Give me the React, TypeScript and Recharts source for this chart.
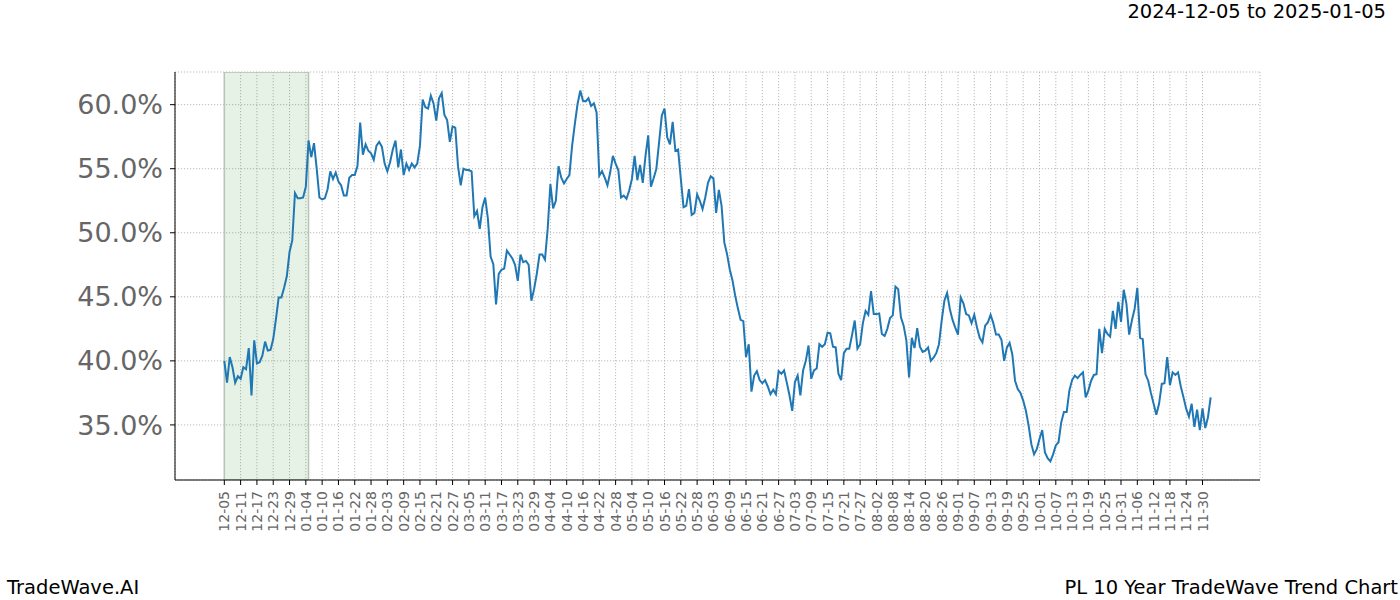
import { LineChart, Line, XAxis, YAxis, CartesianGrid, ReferenceArea } from "recharts"

const LINE_BLUE = "#1f77b4"
const LABEL_GRAY = "#666666"
const FONT = "'DejaVu Sans', sans-serif"

// first date of the series, the x axis counts days from here
const START_DATE = Date.UTC(2024, 11, 5)

// trend strength per day, 2024-12-05 .. 2025-12-03
const trendValues = [
  40.0, 38.3, 40.3, 39.5, 38.3, 38.8, 38.6, 39.5, 39.35, 41.0,
  37.3, 41.6, 39.8, 39.9, 40.4, 41.5, 40.8, 40.85, 41.7, 43.25,
  44.95, 44.95, 45.7, 46.6, 48.5, 49.4, 53.1, 52.7, 52.7, 52.75,
  53.6, 57.2, 55.9, 57.0, 55.0, 52.75, 52.6, 52.7, 53.4, 54.8,
  54.2, 54.7, 54.0, 53.7, 52.9, 52.9, 54.3, 54.5, 54.5, 55.2,
  58.6, 56.1, 56.9, 56.4, 56.2, 55.7, 56.8, 57.1, 56.7, 55.4,
  54.8, 55.5, 56.5, 57.2, 55.1, 56.5, 54.5, 55.4, 54.9, 55.4,
  55.1, 55.4, 56.8, 60.4, 59.8, 59.7, 60.7, 60.1, 58.75, 60.5,
  60.9, 59.2, 58.8, 57.1, 58.3, 58.2, 55.2, 53.7, 55.0, 54.9,
  54.9, 54.8, 51.3, 51.7, 50.3, 52.0, 52.75, 51.1, 48.15, 47.55,
  44.4, 46.8, 47.1, 47.2, 48.6, 48.3, 48.0, 47.5, 46.25, 48.3,
  47.7, 47.8, 47.5, 44.7, 45.6, 46.8, 48.3, 48.3, 47.9, 50.3,
  53.8, 51.9, 52.5, 55.2, 54.3, 53.85, 54.2, 54.5, 56.8, 58.5,
  60.05, 61.1, 60.3, 60.25, 60.5, 59.9, 60.1, 59.4, 54.45, 54.8,
  54.3, 53.7, 54.7, 56.0, 55.4, 54.9, 52.75, 52.9, 52.65, 53.3,
  54.2, 56.0, 54.1, 55.3, 53.9, 56.0, 57.6, 53.6, 54.25, 55.0,
  57.05, 59.15, 59.7, 57.45, 56.9, 58.65, 56.4, 56.5, 54.2, 52.0,
  52.1, 53.4, 51.4, 51.55, 53.0, 52.5, 51.85, 52.75, 53.9, 54.4,
  54.25, 51.55, 53.35, 52.1, 49.25, 48.35, 47.15, 46.3, 45.1, 44.1,
  43.2, 43.1, 40.3, 41.3, 37.6, 38.85, 39.2, 38.5, 38.25, 38.5,
  38.0, 37.4, 37.75, 37.4, 39.2, 39.0, 39.25, 38.3, 37.3, 36.1,
  38.35, 38.85, 37.3, 39.25, 40.0, 41.2, 38.6, 39.25, 39.4, 41.3,
  41.1, 41.3, 42.2, 42.15, 41.1, 41.05, 39.0, 38.5, 40.6, 40.95,
  40.95, 42.0, 43.15, 40.95, 41.3, 42.95, 43.9, 43.6, 45.45, 43.65,
  43.65, 43.7, 42.1, 41.95, 42.5, 43.35, 43.55, 45.8, 45.6, 43.4,
  42.75, 41.6, 38.7, 41.8, 41.0, 42.55, 41.1, 40.7, 40.8, 41.05,
  40.0, 40.25, 40.6, 41.3, 43.15, 44.7, 45.3, 44.05, 43.2, 42.6,
  42.05, 44.95, 44.5, 43.65, 43.55, 42.95, 43.6, 42.6, 41.8, 41.45,
  42.75, 43.0, 43.6, 42.95, 42.05, 42.05, 41.65, 40.0, 41.05, 41.4,
  40.5, 38.45, 37.8, 37.5, 36.9, 36.1, 34.95, 33.5, 32.7, 33.1,
  33.9, 34.6, 32.85, 32.4, 32.15, 32.7, 33.4, 33.65, 35.2, 36.0,
  36.0, 37.7, 38.5, 38.85, 38.65, 38.9, 39.1, 37.15, 37.7, 38.45,
  38.9, 38.95, 42.5, 40.6, 42.5, 42.1, 41.9, 43.9, 42.5, 44.6,
  43.05, 45.55, 44.45, 42.05, 43.15, 44.05, 45.7, 41.8, 41.7, 38.95,
  38.45, 37.5, 36.65, 35.8, 36.65, 38.2, 38.25, 40.3, 38.1, 39.1,
  38.9, 39.1, 38.0, 37.15, 36.25, 35.65, 36.65, 34.85, 36.2, 34.6,
  36.3, 34.75, 35.6, 37.15,
]

// x ticks every 6 days, y ticks every 5 %
const xTicks = Array.from({ length: 61 }, (_, i) => i * 6)
const yTicks = [35, 40, 45, 50, 55, 60]

// highlighted window 2024-12-05 .. 2025-01-05
const spanStart = 0
const spanEnd = 31

const data = trendValues.map((v, i) => ({ day: i, value: v }))

function dayLabel(day: number) {
  const d = new Date(START_DATE + day * 86400000)
  const mm = String(d.getUTCMonth() + 1).padStart(2, "0")
  const dd = String(d.getUTCDate()).padStart(2, "0")
  return `${mm}-${dd}`
}

function XTick({ x, y, payload }: any) {
  return (
    <g transform={`translate(${x},${y})`}>
      <text
        transform="rotate(-90)"
        textAnchor="end"
        dy="0.36em"
        fill={LABEL_GRAY}
        fontSize={14}
        fontFamily={FONT}
      >
        {dayLabel(payload.value)}
      </text>
    </g>
  )
}

export default function App() {
  return (
    <div
      style={{
        position: "absolute",
        left: 0,
        top: 0,
        width: 1400,
        height: 600,
        background: "#fff",
        fontFamily: FONT,
      }}
    >
      <LineChart
        width={1400}
        height={600}
        data={data}
        margin={{ top: 72, right: 140, bottom: 60, left: 75 }}
      >
        <CartesianGrid stroke="#aaaaaa" strokeDasharray="1.2 1.8" strokeWidth={0.8} />
        <ReferenceArea
          x1={spanStart}
          x2={spanEnd}
          fill="#008000"
          fillOpacity={0.1}
          stroke="#b8c4b8"
          strokeWidth={1.5}
          ifOverflow="hidden"
        />
        <XAxis
          dataKey="day"
          type="number"
          domain={[-18.15, 381.15]}
          ticks={xTicks}
          interval={0}
          allowDataOverflow
          height={60}
          tickSize={5}
          tickMargin={6}
          tick={<XTick />}
          axisLine={{ stroke: "#000" }}
          tickLine={{ stroke: "#000" }}
        />
        <YAxis
          type="number"
          domain={[30.7, 62.55]}
          ticks={yTicks}
          allowDataOverflow
          width={100}
          tickSize={5}
          tickMargin={7}
          tickFormatter={(v) => `${Number(v).toFixed(1)}%`}
          tick={{ fill: LABEL_GRAY, fontSize: 27, fontFamily: FONT }}
          axisLine={{ stroke: "#000" }}
          tickLine={{ stroke: "#000" }}
        />
        <Line
          type="linear"
          dataKey="value"
          stroke={LINE_BLUE}
          strokeWidth={2}
          dot={false}
          isAnimationActive={false}
        />
      </LineChart>
      <div style={{ position: "absolute", right: 14, top: 1, fontSize: 19.5, lineHeight: "22px", color: "#000" }}>
        2024-12-05 to 2025-01-05
      </div>
      <div style={{ position: "absolute", left: 7, top: 577, fontSize: 19.5, lineHeight: "22px", color: "#000" }}>
        TradeWave.AI
      </div>
      <div style={{ position: "absolute", right: 2, top: 577, fontSize: 19.5, lineHeight: "22px", color: "#000" }}>
        PL 10 Year TradeWave Trend Chart
      </div>
    </div>
  )
}
